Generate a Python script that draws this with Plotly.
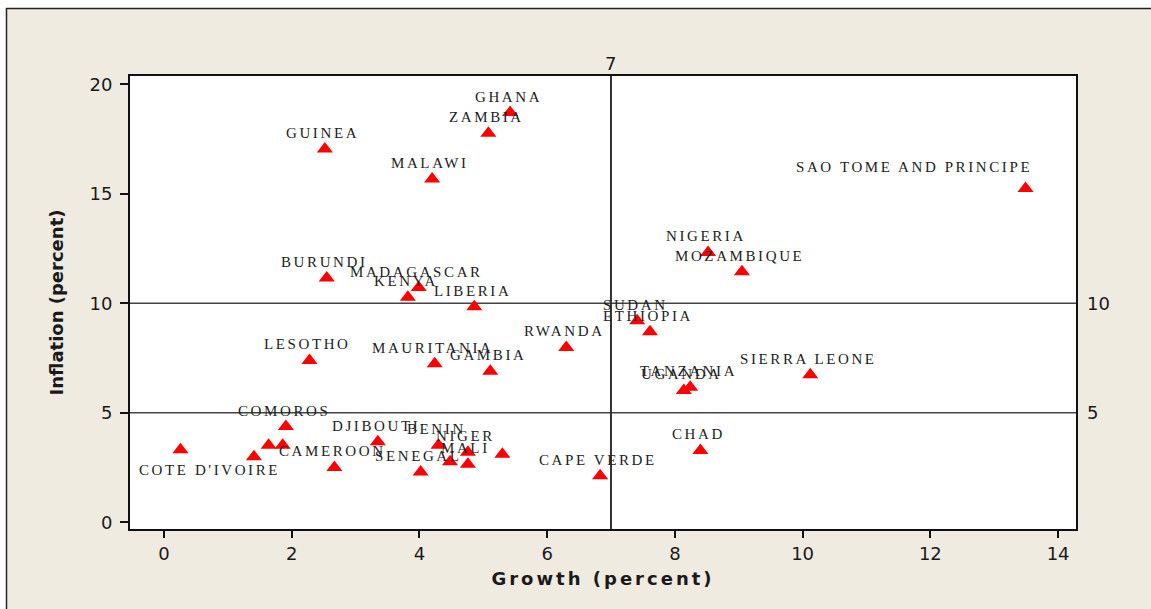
import plotly.graph_objects as go

# ---- data ----
countries = ["GHANA", "ZAMBIA", "GUINEA", "MALAWI", "SAO TOME AND PRINCIPE", "NIGERIA",
             "MOZAMBIQUE", "BURUNDI", "MADAGASCAR", "KENYA", "LIBERIA", "SUDAN",
             "ETHIOPIA", "RWANDA", "LESOTHO", "MAURITANIA", "GAMBIA", "SIERRA LEONE",
             "TANZANIA", "UGANDA", "COMOROS", "DJIBOUTI", "BENIN", "NIGER", "MALI",
             "CAMEROON", "SENEGAL", "CHAD", "CAPE VERDE", "COTE D'IVOIRE",
             "", "", "", "", ""]
growth = [5.42, 5.08, 2.52, 4.20, 13.49, 8.52, 9.05, 2.55, 3.99, 3.82, 4.86, 7.41,
          7.61, 6.30, 2.28, 4.24, 5.11, 10.12, 8.24, 8.14, 1.91, 3.35, 4.30, 4.76,
          4.76, 2.67, 4.02, 8.40, 6.83, 0.26, 1.41, 1.64, 1.86, 4.48, 5.30]
inflation = [18.71, 17.77, 17.05, 15.68, 15.24, 12.32, 11.44, 11.15, 10.72, 10.28,
             9.84, 9.20, 8.70, 7.98, 7.39, 7.24, 6.89, 6.73, 6.16, 6.02, 4.37, 3.68,
             3.51, 3.19, 2.65, 2.50, 2.29, 3.28, 2.12, 3.31, 2.99, 3.51, 3.51, 2.76,
             3.10]
x_ticks = [0, 2, 4, 6, 8, 10, 12, 14]
y_ticks = [0, 5, 10, 15, 20]
ref_x = [7]
ref_y = [5, 10]

# ---- styling ----
BEIGE = "#EFEBE1"
TXT = "#1a1a1a"
SANS = "DejaVu Sans"
SERIF = "Liberation Serif"
LS_LABEL = 2.6
W, H = 1151, 609
ML, MT, PW, PH = 130, 76, 946, 453  # plot area inside the figure

# label placement (pixel offsets: dx, dy-up, anchor)
default_off = (-2, 16, "center")
special_off = {
    "SAO TOME AND PRINCIPE": (8, 22, "right"),
    "COTE D'IVOIRE": (29, -20, "center"),
}

def spaced(t, ls):
    return f'<span style="letter-spacing:{ls}px">{t}</span>'

fig = go.Figure()
fig.add_trace(go.Scatter(
    x=growth, y=inflation, mode="markers",
    marker=dict(symbol="triangle-up", size=14, color="#FF0000", line=dict(width=0)),
    hoverinfo="skip", showlegend=False))

annotations = []
for name, gx, iy in zip(countries, growth, inflation):
    if not name:
        continue
    dx, dy, anc = special_off.get(name, default_off)
    annotations.append(dict(
        x=gx, y=iy, xref="x", yref="y", text=spaced(name, LS_LABEL),
        showarrow=False, xanchor=anc, yanchor="middle", xshift=dx, yshift=dy,
        font=dict(family=SERIF, size=15, color="#222222")))

for v in ref_x:
    annotations.append(dict(x=v, y=1, xref="x", yref="paper", text=str(v),
                            showarrow=False, xanchor="center", yanchor="middle",
                            yshift=13, font=dict(family=SANS, size=18, color=TXT)))
for v in ref_y:
    annotations.append(dict(x=1, y=v, xref="paper", yref="y", text=str(v),
                            showarrow=False, xanchor="left", yanchor="middle",
                            xshift=9, font=dict(family=SANS, size=18, color=TXT)))

shapes = [
    # beige panel with dark border (left/top edges visible, rest beyond the page)
    dict(type="rect", xref="paper", yref="paper",
         x0=(6.5 - ML) / PW, x1=1 + (W + 20 - ML - PW) / PW,
         y0=-(H + 20 - MT - PH) / PH, y1=1 + (MT - 8.5) / PH,
         fillcolor=BEIGE, line=dict(color="#222222", width=1.5), layer="below"),
    dict(type="rect", xref="paper", yref="paper", x0=0, x1=1, y0=0, y1=1,
         fillcolor="white", line=dict(width=0), layer="below"),
]
for v in ref_y:
    shapes.append(dict(type="line", xref="paper", yref="y", x0=0, x1=1, y0=v, y1=v,
                       line=dict(color="#444444", width=1.5), layer="below"))
for v in ref_x:
    shapes.append(dict(type="line", xref="x", yref="paper", x0=v, x1=v, y0=0, y1=1,
                       line=dict(color="#333333", width=2), layer="below"))

fig.update_layout(
    width=W, height=H,
    margin=dict(l=ML, r=W - ML - PW, t=MT, b=H - MT - PH),
    paper_bgcolor="white", plot_bgcolor="white",
    annotations=annotations, shapes=shapes,
    xaxis=dict(range=[-0.53, 14.28], tickvals=x_ticks, ticks="outside", ticklen=7,
               tickwidth=2, tickcolor="#111", showgrid=False, zeroline=False,
               showline=True, linewidth=2, linecolor="#111", mirror=True,
               tickfont=dict(family=SANS, size=18, color=TXT),
               title=dict(text=spaced("<b>Growth (percent)</b>", 3), standoff=10,
                          font=dict(family=SANS, size=18, color=TXT))),
    yaxis=dict(range=[-0.31, 20.38], tickvals=y_ticks, ticks="outside", ticklen=8,
               tickwidth=2, tickcolor="#111", showgrid=False, zeroline=False,
               showline=True, linewidth=2, linecolor="#111", mirror=True,
               ticklabelstandoff=4,
               tickfont=dict(family=SANS, size=18, color=TXT),
               title=dict(text="<b>Inflation (percent)</b>", standoff=21,
                          font=dict(family=SANS, size=18, color=TXT))),
)

fig.write_html("out.html", config={"displayModeBar": False},
               post_script="document.body.style.margin='0px';"
                           "document.documentElement.style.overflow='hidden';")
